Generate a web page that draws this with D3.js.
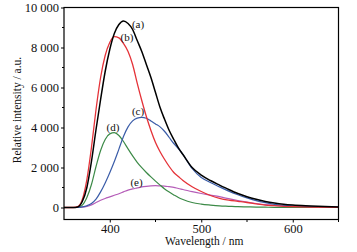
<!DOCTYPE html>
<html>
<head>
<meta charset="utf-8">
<script src="https://cdnjs.cloudflare.com/ajax/libs/d3/7.8.5/d3.min.js"></script>
<style>
  body { margin: 0; background: #fff; }
  text { font-family: "Liberation Serif", "Times New Roman", serif; fill: #111; }
</style>
</head>
<body>
<script>
// wavelengths (nm) shared by all curves
const wavelengths = [350,360,365,370,375,380,385,390,395,400,405,410,415,420,425,430,435,440,445,450,
                     455,460,465,470,475,480,490,500,510,520,530,540,550,560,570,580,590,600,620,650];

const seriesA = [0,0,30,300,1000,2300,3900,5400,6800,7900,8700,9150,9330,9200,8900,8350,7800,7150,6500,5750,
                 5000,4400,3850,3400,2980,2650,2000,1620,1350,1120,900,700,540,410,300,220,160,120,80,30];
const seriesB = [0,0,40,400,1400,3000,4900,6500,7600,8250,8540,8480,8200,7800,7150,6220,5350,4550,3850,3250,
                 2790,2400,2050,1750,1550,1350,1040,800,600,460,370,310,250,180,120,90,60,40,20,10];
const seriesC = [0,0,0,30,90,200,420,780,1230,1740,2300,2920,3550,4030,4330,4470,4510,4460,4330,4180,
                 4030,3800,3500,3200,2950,2650,1950,1500,1250,1030,820,640,480,340,240,160,110,80,40,20];
const seriesD = [0,0,10,120,500,1150,2050,2850,3400,3680,3740,3600,3300,2930,2580,2260,1990,1750,1530,1320,
                 1120,930,770,630,500,400,250,170,120,80,60,40,30,20,15,10,10,5,0,0];
const seriesE = [0,0,0,20,60,130,250,360,450,530,610,690,780,870,930,980,1030,1060,1080,1090,
                 1080,1070,1040,1010,950,900,790,700,620,540,440,350,270,200,140,100,70,50,30,20];

const xTicks = [400, 500, 600];
const xMinor = [450, 550, 650];
const yTicks = [0, 2000, 4000, 6000, 8000, 10000];
const yTickLabels = ["0", "2 000", "4 000", "6 000", "8 000", "10 000"];
const yMinor = [1000, 3000, 5000, 7000, 9000];

const w = 357, h = 252;
const pLeft = 64, pRight = 338.5, pTop = 7.5, pBottom = 219.5;

const x = d3.scaleLinear().domain([350, 650]).range([pLeft, pRight]);
const y = d3.scaleLinear().domain([-600, 10000]).range([pBottom, pTop]);

const svg = d3.select("body").append("svg").attr("width", w).attr("height", h);

const curves = [
  { name: "(e)", values: seriesE, color: "#b55db8", width: 1.2, lx: 136.5, ly: 182 },
  { name: "(d)", values: seriesD, color: "#3c8a47", width: 1.2, lx: 113, ly: 127 },
  { name: "(c)", values: seriesC, color: "#3a5ca8", width: 1.2, lx: 138, ly: 111 },
  { name: "(b)", values: seriesB, color: "#e53238", width: 1.3, lx: 127, ly: 37 },
  { name: "(a)", values: seriesA, color: "#000000", width: 1.5, lx: 138, ly: 24 }
];

const line = d3.line()
  .x(d => x(d[0]))
  .y(d => y(d[1]))
  .curve(d3.curveMonotoneX);

svg.append("g").selectAll("path")
  .data(curves)
  .enter()
  .append("path")
  .attr("d", c => line(wavelengths.map((wl, i) => [wl, c.values[i]])))
  .attr("fill", "none")
  .attr("stroke", c => c.color)
  .attr("stroke-width", c => c.width);

svg.append("g").selectAll("text")
  .data(curves)
  .enter()
  .append("text")
  .attr("x", c => c.lx)
  .attr("y", c => c.ly)
  .attr("dy", "0.35em")
  .attr("text-anchor", "middle")
  .style("font-size", "11px")
  .text(c => c.name);

// axes
const xAxis = d3.axisBottom(x).tickValues(xTicks).tickSize(3).tickPadding(2).tickFormat(d3.format("d"));
const yAxis = d3.axisLeft(y).tickValues(yTicks).tickSize(3).tickPadding(2)
  .tickFormat((d, i) => yTickLabels[i]);

const gx = svg.append("g").attr("transform", "translate(0," + pBottom + ")").call(xAxis);
const gy = svg.append("g").attr("transform", "translate(" + pLeft + ",0)").call(yAxis);
[gx, gy].forEach(g => {
  g.select(".domain").remove();
  g.selectAll("text").style("font-size", "12.5px").style("font-family", "'Liberation Serif', serif").attr("fill", "#111");
  g.selectAll("line").attr("stroke", "#000").attr("stroke-width", 1);
});

svg.append("g").selectAll("line")
  .data(xMinor).enter().append("line")
  .attr("x1", d => x(d)).attr("x2", d => x(d))
  .attr("y1", pBottom).attr("y2", pBottom + 2.5)
  .attr("stroke", "#000");

svg.append("g").selectAll("line")
  .data(yMinor).enter().append("line")
  .attr("x1", pLeft - 2).attr("x2", pLeft)
  .attr("y1", d => y(d)).attr("y2", d => y(d))
  .attr("stroke", "#000");

svg.append("rect")
  .attr("x", pLeft).attr("y", pTop)
  .attr("width", pRight - pLeft).attr("height", pBottom - pTop)
  .attr("fill", "none").attr("stroke", "#000").attr("stroke-width", 1.2);

svg.append("text")
  .attr("x", (pLeft + pRight) / 2 + 3)
  .attr("y", 245)
  .attr("text-anchor", "middle")
  .style("font-size", "11.5px")
  .text("Wavelength / nm");

svg.append("text")
  .attr("transform", "translate(21,110) rotate(-90)")
  .attr("text-anchor", "middle")
  .style("font-size", "11.5px")
  .text("Relative intensity / a.u.");
</script>
</body>
</html>
